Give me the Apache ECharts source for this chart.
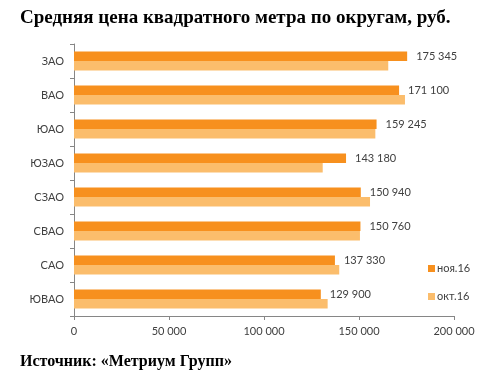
<!DOCTYPE html>
<html><head><meta charset="utf-8">
<script src="https://cdn.jsdelivr.net/npm/echarts@6/dist/echarts.min.js"></script>
<style>html,body{margin:0;padding:0;background:#fff}#c{width:495px;height:380px}</style>
</head><body><div id="c"></div>
<script>
var categories = ['ЗАО','ВАО','ЮАО','ЮЗАО','СЗАО','СВАО','САО','ЮВАО'];
var seriesNames = ['ноя.16','окт.16'];
var novValues = [175345,171100,159245,143180,150940,150760,137330,129900];
var octValues = [165400,174200,158600,130900,155800,150500,139600,133500];
var xTicks = [0,50000,100000,150000,200000];
var titleText = 'Средняя цена квадратного метра по округам, руб.';
var sourceText = 'Источник: «Метриум Групп»';

function fmt(v){ return String(v).replace(/\B(?=(\d{3})+(?!\d))/g,' '); }
var chart = echarts.init(document.getElementById('c'), null, {renderer:'canvas'});
var font = 'Lato, "Open Sans", sans-serif';
chart.setOption({
  animation:false,
  title:[
    {text:titleText,left:15,top:4,textStyle:{fontFamily:'"Liberation Serif", serif',fontWeight:'bold',fontSize:19,color:'#000'}},
    {text:sourceText,left:15,top:349,textStyle:{fontFamily:'"Liberation Serif", serif',fontWeight:'bold',fontSize:16,color:'#000'}}
  ],
  legend:{orient:'vertical',left:423,top:258,itemWidth:7,itemHeight:7,itemGap:17,
    icon:'rect',textStyle:{fontFamily:font,fontSize:11,color:'#404040',padding:[0,0,0,-3]},data:seriesNames},
  grid:{left:74,right:41,top:44,bottom:64,containLabel:false},
  xAxis:{type:'value',min:xTicks[0],max:xTicks[xTicks.length-1],interval:50000,
    axisLine:{show:true,lineStyle:{color:'#868686'}},
    axisTick:{show:true,length:4,lineStyle:{color:'#868686'}},
    splitLine:{show:false},
    axisLabel:{fontFamily:font,fontSize:11,color:'#404040',margin:10,formatter:function(v){return fmt(v);}}},
  yAxis:{type:'category',inverse:true,data:categories,
    axisLine:{show:true,lineStyle:{color:'#868686'}},
    axisTick:{show:true,length:4,lineStyle:{color:'#868686'}},
    axisLabel:{fontFamily:font,fontSize:11,color:'#404040',margin:10}},
  series:[
    {name:seriesNames[0],type:'bar',data:novValues,barCategoryGap:'44%',barGap:'0%',
     itemStyle:{color:'#f7901e'},
     label:{show:true,position:'right',distance:9,fontFamily:font,fontSize:11,color:'#404040',formatter:function(p){return fmt(p.value);}}},
    {name:seriesNames[1],type:'bar',data:octValues,barCategoryGap:'44%',barGap:'0%',
     itemStyle:{color:'#fbbd6c'}}
  ]
});
</script></body></html>
